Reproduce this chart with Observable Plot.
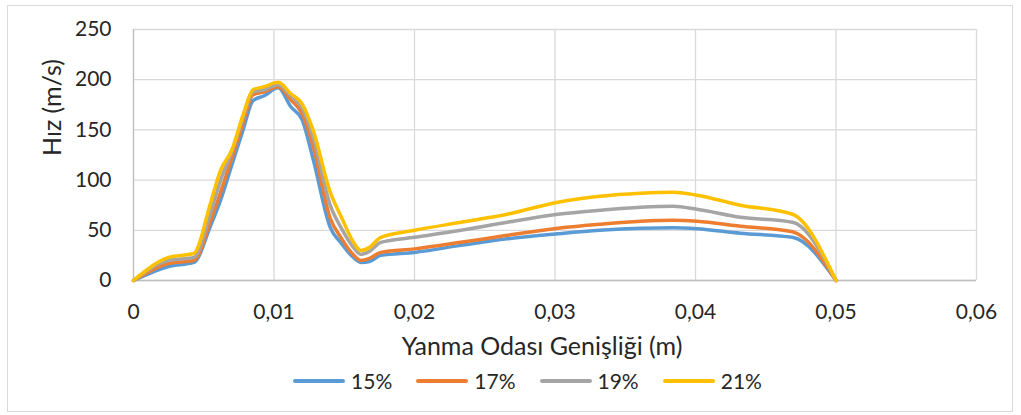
<!DOCTYPE html>
<html>
<head>
<meta charset="utf-8">
<script src="https://cdn.jsdelivr.net/npm/d3@7"></script>
<script src="https://cdn.jsdelivr.net/npm/@observablehq/plot@0.6"></script>
<style>
  html, body { margin: 0; padding: 0; background: #fff; }
  #wrap { position: relative; width: 1021px; height: 415px; font-family: Lato, "Open Sans", sans-serif; color: #262626; }
  #border { position: absolute; left: 7px; top: 5px; width: 1006px; height: 407px; border: 1px solid #d9d9d9; box-sizing: border-box; pointer-events: none; }
  #chart { position: absolute; left: 0; top: 0; }
  #legend { position: absolute; left: 0; width: 1021px; top: 368px; display: flex; justify-content: center; gap: 24px; font-size: 21px; padding-left: 34px; box-sizing: border-box; }
  .item { display: flex; align-items: center; gap: 6px; }
  .sw { width: 52px; height: 4px; border-radius: 2px; }
</style>
</head>
<body>
<div id="wrap">
  <div id="chart"></div>
  <div id="legend"></div>
  <div id="border"></div>
</div>
<script>
const seriesNames = ["15%", "17%", "19%", "21%"];
const seriesColors = ["#5B9BD5", "#ED7D31", "#A5A5A5", "#FFC000"];
const xValues = [0, 0.0025, 0.0043, 0.0055, 0.0062, 0.007, 0.0078, 0.0085, 0.0093, 0.0103, 0.0112, 0.012, 0.0128, 0.014, 0.0148, 0.0155, 0.0162, 0.0168, 0.0176, 0.02, 0.0233, 0.0266, 0.0302, 0.0332, 0.0361, 0.0384, 0.0401, 0.0432, 0.0469, 0.05];
const v15 = [0, 14, 18, 55, 80, 115, 150, 179, 184, 192, 173, 160, 120, 53, 37, 25, 18, 19, 25, 28, 35, 41.5, 46.5, 50, 52, 52.5, 51.5, 47, 43, 0];
const v17 = [0, 17, 20, 60, 88, 122, 157, 185, 188, 193, 180, 166, 133, 62, 42, 28, 20, 22, 28, 31.5, 38, 45, 52, 56, 59, 60, 59, 54, 48.5, 0];
const v19 = [0, 20, 23, 68, 100, 128, 162, 188, 190, 195, 184, 172, 142, 75, 52, 36, 26, 29, 38, 43, 50, 58, 66, 70, 73, 74, 71, 63, 58, 0];
const v21 = [0, 23, 27, 78, 110, 130, 165, 190, 193, 197.5, 186, 176, 149, 88, 63, 42, 30, 33, 43, 50, 58, 66, 78, 84, 87, 88, 85, 75, 66, 0];
const xTicks = [0, 0.01, 0.02, 0.03, 0.04, 0.05, 0.06];
const xTickLabels = ["0", "0,01", "0,02", "0,03", "0,04", "0,05", "0,06"];
const yTicks = [0, 50, 100, 150, 200, 250];
const xTitle = "Yanma Odası Genişliği (m)";
const yTitle = "Hız (m/s)";

const allSeries = [v15, v17, v19, v21];
const rows = [];
allSeries.forEach((vals, si) => {
  vals.forEach((v, i) => rows.push({series: seriesNames[si], x: xValues[i], y: v}));
});

const plot = Plot.plot({
  width: 1021,
  height: 362,
  marginLeft: 133,
  marginRight: 45,
  marginTop: 29,
  marginBottom: 82,
  style: { fontFamily: "Lato, 'Open Sans', sans-serif", fontSize: "21px", color: "#262626", background: "transparent" },
  x: { domain: [0, 0.06] },
  y: { domain: [0, 250] },
  color: { domain: seriesNames, range: seriesColors },
  marks: [
    Plot.gridX(xTicks, { stroke: "#d9d9d9", strokeOpacity: 1, strokeWidth: 1.3 }),
    Plot.gridY(yTicks, { stroke: "#d9d9d9", strokeOpacity: 1, strokeWidth: 1.3 }),
    Plot.ruleY([0], { stroke: "#bfbfbf", strokeWidth: 1.3 }),
    Plot.ruleX([0], { stroke: "#bfbfbf", strokeWidth: 1.3 }),
    Plot.axisX(xTicks, {
      tickSize: 0, tickPadding: 24,
      tickFormat: d => xTickLabels[xTicks.indexOf(d)],
      label: null
    }),
    Plot.axisY(yTicks, {
      tickSize: 0, tickPadding: 22,
      label: null
    }),
    Plot.text([xTitle], { text: d => d, frameAnchor: "bottom", dx: -13, dy: 66, fontSize: 25, lineAnchor: "middle", fill: "#262626" }),
    Plot.text([yTitle], { text: d => d, frameAnchor: "left", dx: -81, dy: 1, rotate: -90, fontSize: 25, lineAnchor: "middle", fill: "#262626" }),
    Plot.line(rows, { x: "x", y: "y", stroke: "series", curve: "monotone-x", strokeWidth: 3.5, strokeLinejoin: "round", strokeLinecap: "round" })
  ]
});
document.getElementById("chart").appendChild(plot);

const legend = document.getElementById("legend");
seriesNames.forEach((name, i) => {
  const it = document.createElement("div");
  it.className = "item";
  const sw = document.createElement("div");
  sw.className = "sw";
  sw.style.background = seriesColors[i];
  const t = document.createElement("span");
  t.textContent = name;
  it.appendChild(sw);
  it.appendChild(t);
  legend.appendChild(it);
});
</script>
</body>
</html>
